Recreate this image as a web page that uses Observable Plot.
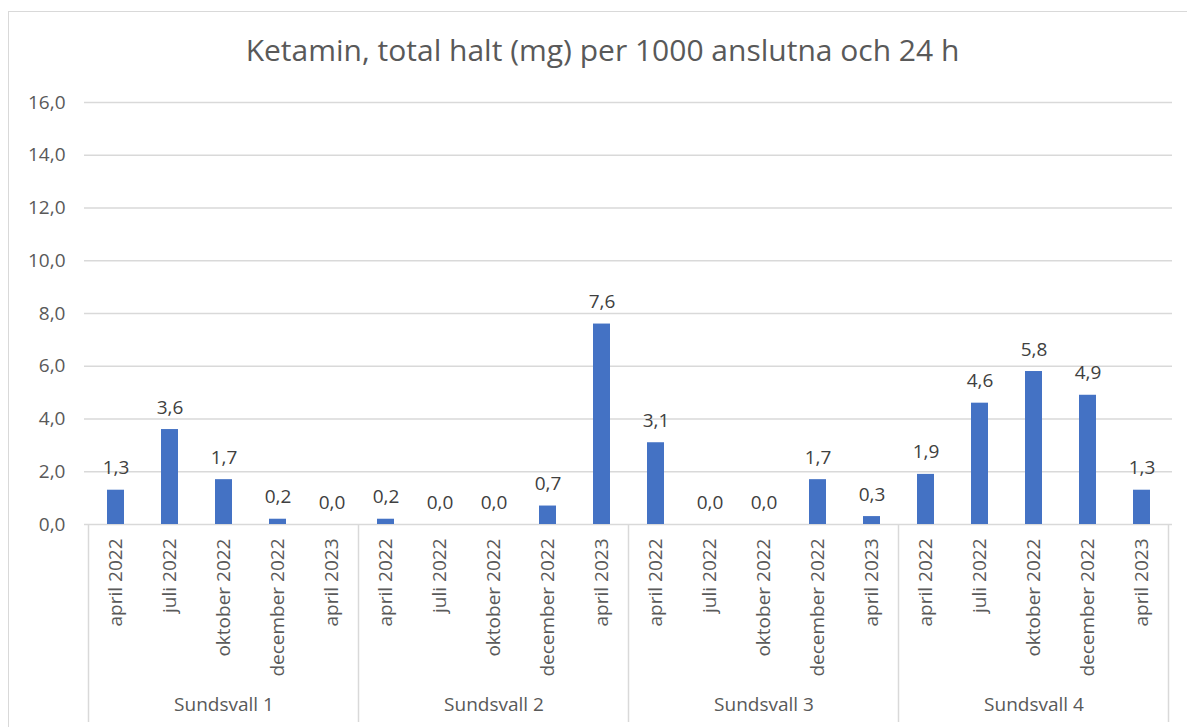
<!DOCTYPE html>
<html>
<head>
<meta charset="utf-8">
<script src="https://cdn.jsdelivr.net/npm/d3@7"></script>
<script src="https://cdn.jsdelivr.net/npm/@observablehq/plot@0.6"></script>
<style>
  html, body { margin: 0; padding: 0; background: #fff; width: 1187px; height: 727px; overflow: hidden; }
  #wrap { position: relative; width: 1187px; height: 727px; font-family: "Open Sans", sans-serif; }
  #border { position: absolute; left: 8px; top: 11px; width: 1200px; height: 740px; border: 1.5px solid #d9d9d9; box-sizing: border-box; }
  #title { position: absolute; left: 0; top: 35px; width: 1205px; text-align: center; font-size: 30px; line-height: 30px; color: #595959; }
  #chart { position: absolute; left: 0; top: 0; }
</style>
</head>
<body>
<div id="wrap">
  <div id="border"></div>
  <div id="chart"></div>
  <div id="title">Ketamin, total halt (mg) per 1000 anslutna och 24 h</div>
</div>
<script>
const groups = ["Sundsvall 1", "Sundsvall 2", "Sundsvall 3", "Sundsvall 4"];
const periods = ["april 2022", "juli 2022", "oktober 2022", "december 2022", "april 2023"];
const sundsvall1 = [1.3, 3.6, 1.7, 0.2, 0.0];
const sundsvall2 = [0.2, 0.0, 0.0, 0.7, 7.6];
const sundsvall3 = [3.1, 0.0, 0.0, 1.7, 0.3];
const sundsvall4 = [1.9, 4.6, 5.8, 4.9, 1.3];
const yTicks = [0, 2, 4, 6, 8, 10, 12, 14, 16];

const seriesValues = [sundsvall1, sundsvall2, sundsvall3, sundsvall4];
const key = (g, p) => g + "|" + p;
const data = [];
groups.forEach((g, gi) => periods.forEach((p, pi) => data.push({group: g, period: p, key: key(g, p), value: seriesValues[gi][pi]})));
const keys = data.map(d => d.key);
const fmt = v => d3.format(".1f")(v).replace(".", ",");

const W = 1187, H = 727;
const mL = 84, mR = 15, mT = 102, mB = 203;
const textColor = "#595959";
const gridColor = "#d9d9d9";

function dividers(index, scales, values, dims) {
  const x = scales.x, y = scales.y;
  const step = (x.step ? x.step() : (dims.width - dims.marginLeft - dims.marginRight) / keys.length);
  const bw = x.bandwidth ? x.bandwidth() : 0;
  const g = d3.create("svg:g");
  const xs = groups.map(gr => x(key(gr, periods[0])) + bw / 2 - step / 2);
  xs.push(x(key(groups[groups.length - 1], periods[periods.length - 1])) + bw / 2 + step / 2);
  const y0 = y(0);
  g.selectAll("line").data(xs).join("line")
    .attr("x1", d => d).attr("x2", d => d)
    .attr("y1", y0).attr("y2", dims.height - 5)
    .attr("stroke", gridColor).attr("stroke-width", 1.5);
  return g.node();
}

const plot = Plot.plot({
  width: W, height: H,
  marginLeft: mL, marginRight: mR, marginTop: mT, marginBottom: mB,
  style: {fontFamily: "'Open Sans', sans-serif", background: "transparent", overflow: "visible"},
  x: {type: "band", domain: keys, paddingInner: 0.69, paddingOuter: 0.345, axis: null},
  y: {domain: [0, 16], axis: null},
  marks: [
    Plot.ruleY(yTicks, {y: d => d, stroke: gridColor, strokeWidth: 1.5}),
    Plot.text(yTicks, {y: d => d, frameAnchor: "left", textAnchor: "end", dx: -19, text: d => fmt(d), fill: textColor, fontSize: 19}),
    dividers,
    Plot.barY(data, {x: "key", y: "value", fill: "#4472C4"}),
    Plot.text(data, {x: "key", y: "value", text: d => fmt(d.value), dy: -22, fill: "#404040", fontSize: 19}),
    Plot.text(data, {x: "key", y: () => 0, text: "period", rotate: -90, textAnchor: "end", dy: 14, fill: textColor, fontSize: 19}),
    Plot.text(groups, {x: g => key(g, periods[2]), frameAnchor: "bottom", dy: 186, text: d => d, fill: textColor, fontSize: 19})
  ]
});
document.getElementById("chart").appendChild(plot);
</script>
</body>
</html>
